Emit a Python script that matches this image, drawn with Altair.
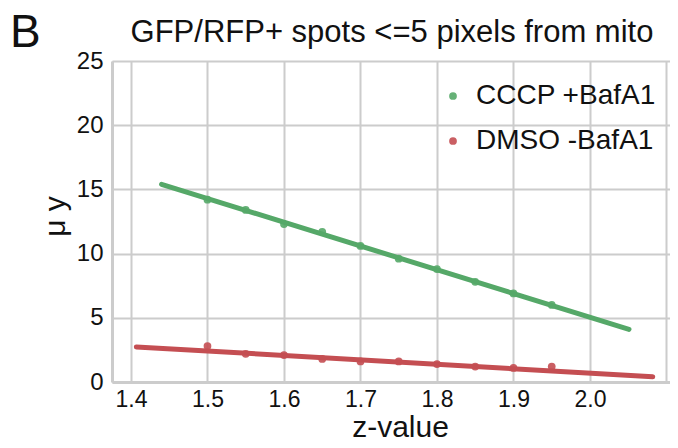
import altair as alt
import pandas as pd

# ---- data ----
z_points = [1.5, 1.55, 1.6, 1.65, 1.7, 1.75, 1.8, 1.85, 1.9, 1.95]
cccp_y = [14.2, 13.4, 12.3, 11.7, 10.6, 9.6, 8.8, 7.8, 6.9, 6.0]
dmso_y = [2.8, 2.2, 2.1, 1.8, 1.6, 1.6, 1.4, 1.2, 1.1, 1.2]

cccp_fit_x = [1.44, 2.051]
cccp_fit_y = [15.4, 4.1]
dmso_fit_x = [1.407, 2.082]
dmso_fit_y = [2.73, 0.41]

series = ["CCCP +BafA1", "DMSO -BafA1"]
colors = ["#55a868", "#c44e52"]

x_ticks = [1.4, 1.5, 1.6, 1.7, 1.8, 1.9, 2.0, 2.1]
y_ticks = [0, 5, 10, 15, 20, 25]

title_text = "GFP/RFP+ spots <=5 pixels from mito"
panel_letter = "B"

# ---- tables ----
pts = pd.DataFrame({
    "z": z_points * 2,
    "y": cccp_y + dmso_y,
    "series": [series[0]] * len(z_points) + [series[1]] * len(z_points),
})
fits = pd.DataFrame({
    "z": cccp_fit_x + dmso_fit_x,
    "y": cccp_fit_y + dmso_fit_y,
    "series": [series[0]] * 2 + [series[1]] * 2,
})

FONT = "Liberation Sans"

xscale = alt.Scale(domain=[1.3752, 2.1046], nice=False, zero=False)
yscale = alt.Scale(domain=[0, 25], nice=False)
cscale = alt.Scale(domain=series, range=colors)

xaxis = alt.Axis(
    values=x_ticks,
    labelExpr="datum.value > 2.05 ? '' : format(datum.value, '.1f')",
    title="z-value", titleFontSize=30, titleFont=FONT, titleFontWeight="normal",
    titleColor="#111111", titleX=288, titleY=54, titleBaseline="alphabetic",
    labelFontSize=23, labelFont=FONT, labelColor="#111111", labelPadding=6,
    ticks=False, grid=True, gridColor="#cccccc", gridWidth=2,
    domainColor="#cccccc", domainWidth=3,
)
yaxis = alt.Axis(
    values=y_ticks,
    title="\u03bc y", titleFontSize=30, titleFont=FONT, titleFontWeight="normal",
    titleColor="#111111", titleX=-48, titleY=155, titleAngle=270,
    titleBaseline="alphabetic", titleAlign="center",
    labelFontSize=24, labelFont=FONT, labelColor="#111111", labelPadding=9,
    ticks=False, grid=True, gridColor="#cccccc", gridWidth=2,
    domainColor="#cccccc", domainWidth=3,
)

points = alt.Chart(pts).mark_circle(size=60, opacity=0.9).encode(
    x=alt.X("z:Q", scale=xscale, axis=xaxis),
    y=alt.Y("y:Q", scale=yscale, axis=yaxis),
    color=alt.Color("series:N", scale=cscale, legend=alt.Legend(
        title=None, orient="none", legendX=327, legendY=21,
        labelFontSize=28, labelFont=FONT, labelColor="#111111",
        symbolType="circle", symbolSize=60, symbolStrokeWidth=0,
        labelOffset=9, rowPadding=17, labelLimit=400,
    )),
)

lines = alt.Chart(fits).mark_line(strokeWidth=5, strokeCap="round").encode(
    x="z:Q",
    y="y:Q",
    color=alt.Color("series:N", scale=cscale, legend=None),
    detail="series:N",
)

letter = alt.Chart(pd.DataFrame({"t": [panel_letter]})).mark_text(
    align="left", baseline="alphabetic", fontSize=46, font=FONT, color="#111111",
).encode(text="t:N", x=alt.value(-102), y=alt.value(-14))

heading = alt.Chart(pd.DataFrame({"t": [title_text]})).mark_text(
    align="center", baseline="alphabetic", fontSize=31, font=FONT, color="#111111",
).encode(text="t:N", x=alt.value(280), y=alt.value(-19))

chart = alt.layer(points, lines, letter, heading).resolve_legend(color="independent").properties(
    width=558, height=321,
    autosize=alt.AutoSizeParams(type="none"),
    padding={"left": 104, "top": 53, "right": 0, "bottom": 55},
).configure_view(stroke=None).configure(background="white")

chart.save("out.html", embed_options={"renderer": "svg", "actions": False})
